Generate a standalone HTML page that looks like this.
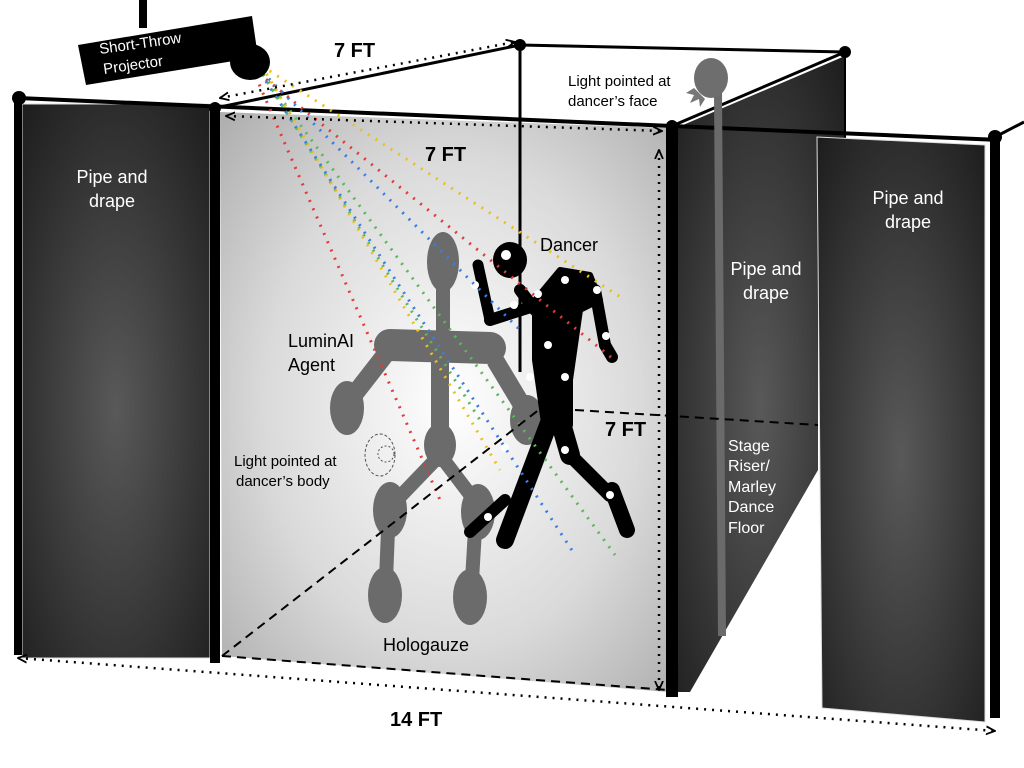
<!DOCTYPE html>
<html><head><meta charset="utf-8"><style>
html,body{margin:0;padding:0;background:#fff;}
svg{display:block;font-family:"Liberation Sans",Arial,sans-serif;}
</style></head><body>
<svg width="1024" height="768" viewBox="0 0 1024 768" xmlns="http://www.w3.org/2000/svg">
<defs>
<radialGradient id="dr" cx="50%" cy="55%" r="75%">
<stop offset="0" stop-color="#595959"/><stop offset="1" stop-color="#1c1c1c"/></radialGradient>
<radialGradient id="gz" cx="52%" cy="50%" r="70%">
<stop offset="0" stop-color="#ffffff"/><stop offset="0.6" stop-color="#dadada"/><stop offset="1" stop-color="#b0b0b0"/></radialGradient>
<marker id="ah" viewBox="0 0 10 10" refX="9" refY="5" markerWidth="10" markerHeight="10" markerUnits="userSpaceOnUse" orient="auto-start-reverse">
<path d="M0,1 L9,5 L0,9" fill="none" stroke="#000" stroke-width="1.8"/></marker>
</defs>

<polygon points="676,128 845,56 845,140 818,140 818,470 690,692 676,692" fill="url(#dr)"/>
<line x1="215" y1="108" x2="520" y2="45" stroke="#000" stroke-width="3"/>
<line x1="520" y1="45" x2="845" y2="52" stroke="#000" stroke-width="3"/>
<line x1="845" y1="52" x2="672" y2="126" stroke="#000" stroke-width="3"/>
<line x1="845" y1="52" x2="845" y2="140" stroke="#000" stroke-width="2"/>
<circle cx="520" cy="45" r="6"/><circle cx="845" cy="52" r="6"/>

<polygon points="220,112 668,128 668,692 222,656" fill="url(#gz)"/>
<line x1="520" y1="45" x2="520" y2="372" stroke="#000" stroke-width="3"/>

<rect x="22" y="104" width="188" height="554" fill="url(#dr)" stroke="#ddd" stroke-width="1"/>
<line x1="18" y1="98" x2="18" y2="655" stroke="#000" stroke-width="8"/>
<line x1="215" y1="108" x2="215" y2="663" stroke="#000" stroke-width="10"/>
<line x1="18" y1="98" x2="672" y2="126" stroke="#000" stroke-width="4"/>
<line x1="672" y1="126" x2="1000" y2="140" stroke="#000" stroke-width="4"/>
<line x1="995" y1="137" x2="1024" y2="122" stroke="#000" stroke-width="3"/>
<circle cx="19" cy="98" r="7"/><circle cx="215" cy="108" r="6"/>

<g fill="#6b6b6b" stroke="#6b6b6b">
<ellipse cx="443" cy="262" rx="16" ry="30" stroke="none"/>
<line x1="443" y1="285" x2="443" y2="345" stroke-width="14"/>
<line x1="390" y1="345" x2="490" y2="348" stroke-width="32" stroke-linecap="round"/>
<line x1="385" y1="355" x2="350" y2="400" stroke-width="18"/>
<line x1="495" y1="360" x2="525" y2="410" stroke-width="18"/>
<ellipse cx="347" cy="408" rx="17" ry="27" stroke="none"/>
<ellipse cx="527" cy="420" rx="17" ry="25" stroke="none"/>
<line x1="440" y1="350" x2="440" y2="430" stroke-width="18"/>
<ellipse cx="440" cy="445" rx="16" ry="22" stroke="none"/>
<line x1="440" y1="455" x2="392" y2="505" stroke-width="14"/>
<line x1="440" y1="455" x2="478" y2="505" stroke-width="14"/>
<ellipse cx="390" cy="510" rx="17" ry="28" stroke="none"/>
<ellipse cx="478" cy="512" rx="17" ry="28" stroke="none"/>
<line x1="388" y1="530" x2="386" y2="580" stroke-width="14"/>
<line x1="475" y1="530" x2="472" y2="580" stroke-width="14"/>
<ellipse cx="385" cy="595" rx="17" ry="28" stroke="none"/>
<ellipse cx="470" cy="597" rx="17" ry="28" stroke="none"/>
</g>

<g stroke="#000" fill="#000" stroke-linecap="round" stroke-linejoin="round">
<ellipse cx="510" cy="260" rx="17" ry="18" stroke="none"/>
<line x1="520" y1="290" x2="535" y2="310" stroke-width="12"/>
<path d="M535,300 L560,270 L590,275 L600,300 L580,310 L570,380 L570,425 L545,430 L535,360 Z" stroke-width="6"/>
<line x1="537" y1="305" x2="490" y2="320" stroke-width="12"/>
<line x1="490" y1="320" x2="478" y2="265" stroke-width="11"/>
<line x1="595" y1="290" x2="605" y2="345" stroke-width="12"/>
<line x1="605" y1="345" x2="612" y2="357" stroke-width="12"/>
<line x1="550" y1="420" x2="505" y2="540" stroke-width="18"/>
<line x1="505" y1="500" x2="470" y2="532" stroke-width="12"/>
<line x1="560" y1="420" x2="570" y2="455" stroke-width="20"/>
<line x1="570" y1="455" x2="610" y2="495" stroke-width="14"/>
<line x1="612" y1="490" x2="627" y2="530" stroke-width="16"/>
</g>
<g fill="#fff">
<circle cx="506" cy="255" r="5"/><circle cx="475" cy="285" r="4"/><circle cx="514" cy="305" r="4"/>
<circle cx="538" cy="294" r="4"/><circle cx="565" cy="280" r="4"/><circle cx="597" cy="290" r="4"/>
<circle cx="548" cy="345" r="4"/><circle cx="606" cy="336" r="4"/><circle cx="530" cy="377" r="4"/>
<circle cx="565" cy="377" r="4"/><circle cx="505" cy="448" r="4"/><circle cx="565" cy="450" r="4"/>
<circle cx="610" cy="495" r="4"/><circle cx="488" cy="517" r="4"/></g>

<g fill="none" stroke-width="3" stroke-dasharray="2 7">
<line x1="252" y1="68" x2="440" y2="500" stroke="#e23b3b"/>
<line x1="252" y1="68" x2="612" y2="358" stroke="#e23b3b"/>
<line x1="256" y1="66" x2="575" y2="555" stroke="#3b7de2"/>
<line x1="256" y1="66" x2="520" y2="330" stroke="#3b7de2"/>
<line x1="258" y1="67" x2="615" y2="555" stroke="#5cb85c"/>
<line x1="258" y1="67" x2="480" y2="420" stroke="#5cb85c"/>
<line x1="262" y1="66" x2="625" y2="300" stroke="#e8c020"/>
<line x1="262" y1="66" x2="500" y2="470" stroke="#e8c020"/>
</g>

<polygon points="817,137 985,145 985,722 822,708" fill="url(#dr)" stroke="#ddd" stroke-width="1"/>
<line x1="995" y1="137" x2="995" y2="718" stroke="#000" stroke-width="10"/>
<circle cx="995" cy="137" r="7"/>
<line x1="672" y1="126" x2="672" y2="697" stroke="#000" stroke-width="12"/>
<circle cx="672" cy="126" r="6"/>

<line x1="718" y1="92" x2="722" y2="636" stroke="#6a6a6a" stroke-width="8"/>
<path d="M694,88 l-8,5 l8,2 l-4,8 l9,-4 l1,8 l5,-8 z" fill="#777"/>
<ellipse cx="711" cy="78" rx="17" ry="20" fill="#6e6e6e"/>

<g fill="none" stroke="#000" stroke-width="2" stroke-dasharray="9 6">
<polyline points="222,656 545,405"/>
<polyline points="575,410 818,425"/>
<polyline points="222,656 668,690"/>
</g>

<g fill="none" stroke="#000" stroke-width="2.5" stroke-dasharray="2 6">
<line x1="220" y1="98" x2="515" y2="42" marker-start="url(#ah)" marker-end="url(#ah)"/>
<line x1="226" y1="116" x2="662" y2="131" marker-start="url(#ah)" marker-end="url(#ah)"/>
<line x1="659" y1="150" x2="659" y2="690" marker-start="url(#ah)" marker-end="url(#ah)"/>
<line x1="18" y1="658" x2="995" y2="731" marker-start="url(#ah)" marker-end="url(#ah)"/>
</g>

<ellipse cx="380" cy="455" rx="15" ry="21" fill="none" stroke="#555" stroke-dasharray="3 2"/>
<circle cx="386" cy="454" r="8" fill="none" stroke="#555" stroke-dasharray="2 2"/>

<line x1="143" y1="0" x2="143" y2="28" stroke="#000" stroke-width="8"/>
<polygon points="78,45 252,16 258,57 86,85" fill="#000"/>
<ellipse cx="250" cy="62" rx="20" ry="18" fill="#000"/>
<text x="100" y="54" transform="rotate(-8 100 54)" fill="#fff" font-size="15">Short-Throw</text>
<text x="104" y="74" transform="rotate(-8 104 74)" fill="#fff" font-size="15">Projector</text>

<g font-weight="bold" font-size="20" fill="#000">
<text x="334" y="57">7 FT</text>
<text x="425" y="161">7 FT</text>
<text x="605" y="436">7 FT</text>
<text x="390" y="726">14 FT</text>
</g>
<g font-size="18" fill="#fff" text-anchor="middle">
<text x="112" y="183">Pipe and</text><text x="112" y="207">drape</text>
<text x="908" y="204">Pipe and</text><text x="908" y="228">drape</text>
<text x="766" y="275">Pipe and</text><text x="766" y="299">drape</text>
</g>
<g font-size="16" fill="#fff">
<text x="728" y="451">Stage</text><text x="728" y="471">Riser/</text>
<text x="728" y="492">Marley</text><text x="728" y="512">Dance</text><text x="728" y="533">Floor</text>
</g>
<g font-size="18" fill="#000">
<text x="540" y="251">Dancer</text>
<text x="288" y="347">LuminAI</text><text x="288" y="371">Agent</text>
<text x="383" y="651">Hologauze</text>
</g>
<g font-size="15" fill="#000">
<text x="568" y="86">Light pointed at</text><text x="568" y="106">dancer’s face</text>
<text x="234" y="466">Light pointed at</text><text x="236" y="486">dancer’s body</text>
</g>
</svg>
</body></html>
